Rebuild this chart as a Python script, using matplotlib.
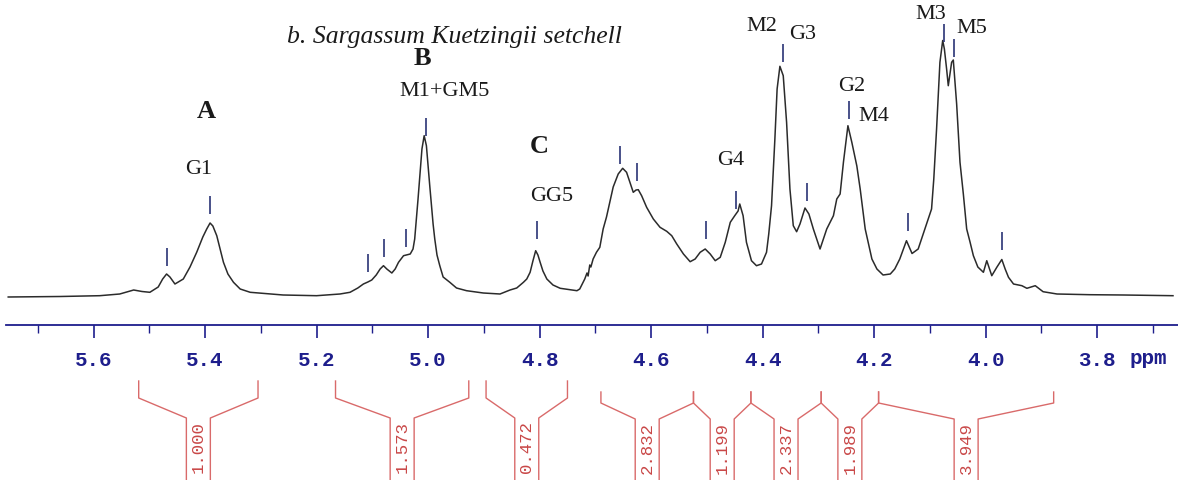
import matplotlib
matplotlib.use("Agg")
import matplotlib.pyplot as plt

# 1H NMR trace (chemical shift in ppm, intensity in arbitrary units)
ppm = [5.753, 5.660, 5.589, 5.553, 5.528, 5.513, 5.499, 5.484, 5.476, 5.469,
       5.463, 5.454, 5.439, 5.427, 5.415, 5.404, 5.397, 5.391, 5.386, 5.379,
       5.373, 5.367, 5.359, 5.349, 5.337, 5.319, 5.260, 5.200, 5.158, 5.140,
       5.126, 5.116, 5.108, 5.101, 5.093, 5.086, 5.080, 5.074, 5.065, 5.059,
       5.053, 5.044, 5.032, 5.027, 5.024, 5.018, 5.011, 5.007, 5.003, 4.997,
       4.991, 4.988, 4.984, 4.979, 4.973, 4.961, 4.949, 4.931, 4.901, 4.871,
       4.853, 4.841, 4.829, 4.823, 4.817, 4.812, 4.807, 4.803, 4.799, 4.794,
       4.787, 4.776, 4.763, 4.733, 4.728, 4.722, 4.719, 4.715, 4.713, 4.710,
       4.708, 4.704, 4.698, 4.692, 4.686, 4.680, 4.674, 4.668, 4.659, 4.651,
       4.644, 4.638, 4.632, 4.627, 4.623, 4.617, 4.608, 4.596, 4.584, 4.572,
       4.563, 4.554, 4.542, 4.530, 4.521, 4.512, 4.503, 4.494, 4.485, 4.476,
       4.467, 4.458, 4.450, 4.444, 4.441, 4.435, 4.429, 4.420, 4.411, 4.402,
       4.393, 4.389, 4.384, 4.378, 4.374, 4.369, 4.363, 4.357, 4.351, 4.345,
       4.339, 4.333, 4.324, 4.317, 4.309, 4.297, 4.285, 4.273, 4.267, 4.261,
       4.255, 4.247, 4.240, 4.231, 4.225, 4.216, 4.204, 4.195, 4.184, 4.171,
       4.163, 4.154, 4.142, 4.132, 4.121, 4.109, 4.097, 4.093, 4.088, 4.082,
       4.077, 4.074, 4.070, 4.067, 4.061, 4.058, 4.052, 4.046, 4.040, 4.034,
       4.028, 4.022, 4.014, 4.004, 3.998, 3.989, 3.980, 3.971, 3.965, 3.959,
       3.950, 3.935, 3.926, 3.911, 3.897, 3.872, 3.813, 3.753, 3.664]
intensity = [0.0, 0.5, 1.3, 3.0, 7.0, 5.5, 4.7, 10.0, 18.0, 23.0,
             20.0, 13.0, 18.0, 30.0, 44.7, 60.0, 68.0, 74.0, 71.0, 61.3,
             48.0, 34.7, 23.0, 14.7, 8.0, 4.7, 2.0, 1.3, 3.0, 4.7,
             9.0, 13.0, 15.0, 17.0, 22.0, 28.0, 31.3, 28.0, 24.0, 28.0,
             34.7, 41.3, 43.0, 48.0, 58.0, 98.0, 148.0, 161.3, 151.3, 111.3,
             73.0, 58.0, 42.0, 31.3, 20.0, 14.7, 9.0, 6.3, 4.0, 3.0,
             7.0, 9.0, 14.7, 18.0, 24.7, 36.0, 46.3, 42.0, 34.7, 26.0,
             18.0, 12.0, 8.7, 6.3, 8.0, 14.7, 18.0, 24.0, 21.0, 32.0,
             30.0, 38.0, 44.7, 49.7, 68.0, 80.0, 95.0, 110.0, 123.0, 128.7,
             124.7, 114.7, 104.7, 107.0, 107.3, 101.3, 89.7, 78.0, 69.7, 65.7,
             61.3, 53.0, 43.0, 35.3, 38.0, 44.7, 48.0, 43.0, 36.3, 39.7,
             54.7, 74.7, 81.3, 86.0, 93.0, 81.3, 54.7, 36.3, 31.3, 33.0,
             44.7, 63.0, 91.3, 158.0, 208.0, 230.7, 221.3, 174.7, 108.0, 71.3,
             65.3, 73.0, 89.0, 83.0, 68.0, 48.0, 68.0, 81.3, 98.0, 103.0,
             135.0, 171.3, 154.7, 131.0, 108.0, 68.0, 38.0, 28.0, 22.0, 23.0,
             28.0, 38.0, 56.3, 43.5, 48.0, 68.0, 88.0, 118.0, 168.0, 234.7,
             256.5, 248.0, 228.0, 211.3, 234.7, 237.0, 193.0, 134.7, 103.0, 68.0,
             55.0, 41.3, 30.0, 24.7, 36.3, 21.3, 29.7, 37.5, 28.0, 19.7,
             13.0, 11.3, 8.7, 11.3, 5.3, 3.0, 2.3, 2.0, 1.3]

# peak-pick marks: position and level of the lower end of each mark
pick_ppm = [5.468, 5.391, 5.107, 5.079, 5.040, 5.004, 4.805, 4.655, 4.626,
            4.502, 4.448, 4.364, 4.320, 4.245, 4.140, 4.074, 4.056, 3.970]
pick_base = [31, 83, 25, 40, 50, 161, 58, 133, 116,
             58, 88, 235, 96, 178, 66, 255, 240, 47]

# assignments
assign_text = ["G1", "M1+GM5", "GG5", "G4", "M2", "G3", "G2", "M4", "M3", "M5"]
assign_ppm = [5.411, 4.970, 4.778, 4.458, 4.401, 4.329, 4.241, 4.200, 4.098, 4.024]
assign_y = [128, 206, 101, 137, 271, 263, 211, 181, 283, 269]

region_text = ["A", "B", "C"]
region_ppm = [5.398, 5.011, 4.801]
region_y = [186, 239, 151]

title = "b. Sargassum Kuetzingii setchell"
title_ppm, title_y = 4.952, 261

# x axis
major_ticks = [5.6, 5.4, 5.2, 5.0, 4.8, 4.6, 4.4, 4.2, 4.0, 3.8]
minor_ticks = [5.7, 5.5, 5.3, 5.1, 4.9, 4.7, 4.5, 4.3, 4.1, 3.9, 3.7]

# integrals
single_ranges = [(5.519, 5.305), (5.166, 4.927), (4.896, 4.750)]
group_edges = [4.690, 4.524, 4.421, 4.295, 4.192, 3.878]
integral_values = ["1.000", "1.573", "0.472", "2.832", "1.199", "2.337", "1.989", "3.949"]

navy = "#1e1e8c"
red_line = "#d96a6a"
red_text = "#c94848"
mark_col = "#2a3475"

W, H = 1178, 481
fig = plt.figure(figsize=(W / 100, H / 100), dpi=100)
x0 = 6 / W
ax = fig.add_axes([x0, 1 - 326 / H, 1 - x0, 326 / H])
ax.plot(ppm, intensity, color="#2b2b2b", lw=1.1)
ax.set_xlim(5.757, 3.655)
ax.set_ylim(-28, 298)
for s in ["top", "left", "right"]:
    ax.spines[s].set_visible(False)
ax.spines["bottom"].set_color(navy)
ax.spines["bottom"].set_linewidth(1.3)
ax.set_yticks([])
ax.set_xticks(major_ticks)
ax.set_xticks(minor_ticks, minor=True)
ax.set_xticklabels([f"{t:.1f}" for t in major_ticks])
ax.tick_params(axis="x", which="major", direction="out", length=9, width=1.2,
               colors=navy, pad=9)
ax.tick_params(axis="x", which="minor", direction="out", length=5.5, width=1.0,
               colors=navy)
for lbl in ax.get_xticklabels():
    lbl.set_fontfamily("Liberation Mono")
    lbl.set_fontweight("bold")
    lbl.set_fontsize(15)
fig.text(1148 / W, 1 - 359 / H, "ppm", ha="center", va="center", color=navy,
         family="Liberation Mono", fontweight="bold", fontsize=15)

ax.vlines(pick_ppm, pick_base, [b + 18 for b in pick_base], color=mark_col, lw=1.2)

serif = "Liberation Serif"
for t, x, y in zip(assign_text, assign_ppm, assign_y):
    ax.text(x, y, t, ha="center", va="center", family=serif, fontsize=16, color="#1a1a1a")
for t, x, y in zip(region_text, region_ppm, region_y):
    ax.text(x, y, t, ha="center", va="center", family=serif, fontsize=19,
            fontweight="bold", color="#1a1a1a")
ax.text(title_ppm, title_y, title, ha="center", va="center", family=serif,
        style="italic", fontsize=18.5, color="#1a1a1a")

# integral brackets
ax2 = fig.add_axes([x0, 0, 1 - x0, 111 / H])
ax2.set_xlim(5.757, 3.655)
ax2.set_ylim(0, 111)
ax2.axis("off")
hw = 0.0215


def bracket(left, right, value, top, corner, box_top):
    c = (left + right) / 2
    ax2.plot([left, left, c + hw, c + hw], [top, corner, box_top, 0], color=red_line, lw=1.0)
    ax2.plot([right, right, c - hw, c - hw], [top, corner, box_top, 0], color=red_line, lw=1.0)
    ax2.text(c, box_top - 2, value, rotation=90, ha="center", va="top",
             family="Liberation Mono", fontsize=12.5, color=red_text)


for (l, r), v in zip(single_ranges, integral_values[:3]):
    bracket(l, r, v, 99, 82, 62)
for i in range(len(group_edges) - 1):
    bracket(group_edges[i], group_edges[i + 1], integral_values[3 + i], 88, 77, 61)

fig.savefig("out.png", dpi=100)
